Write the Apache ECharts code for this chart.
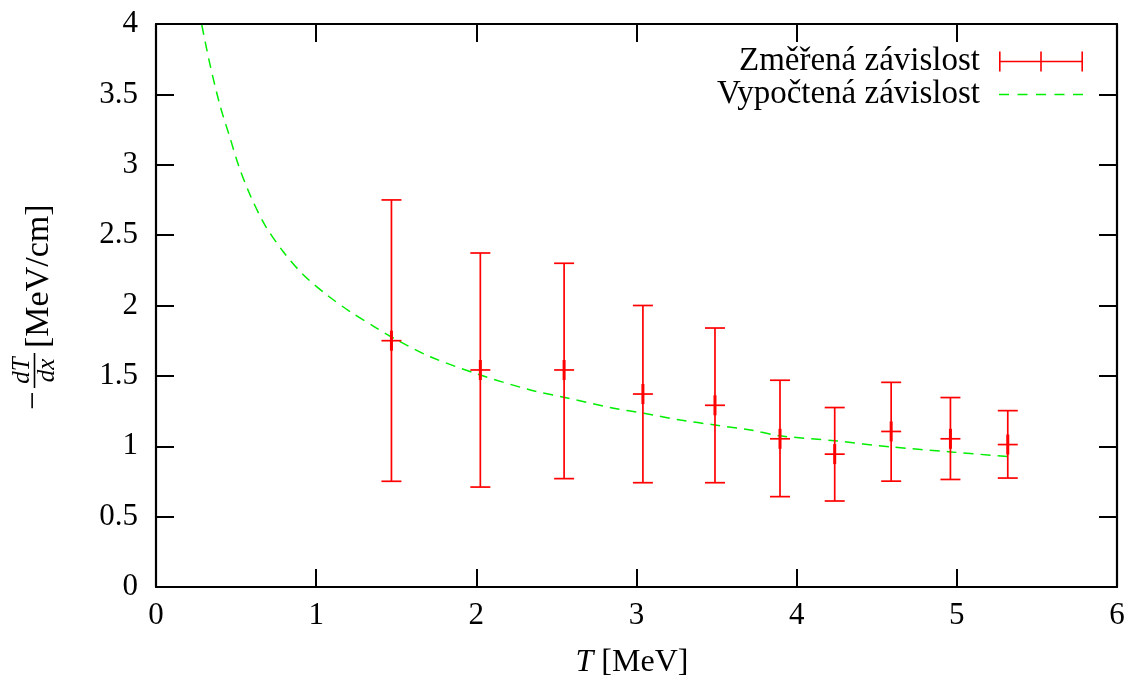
<!DOCTYPE html>
<html>
<head>
<meta charset="utf-8">
<script src="https://cdn.jsdelivr.net/npm/echarts@6/dist/echarts.min.js"></script>
<style>
html,body{margin:0;padding:0;background:#fff;}
#chart{width:1131px;height:685px;}
</style>
</head>
<body>
<div id="chart"></div>
<script>
// Measured data (error bars)
const measT   = [1.47, 2.025, 2.548, 3.04, 3.49, 3.896, 4.2375, 4.59, 4.96, 5.318];
const measY   = [1.75, 1.542, 1.542, 1.371, 1.291, 1.053, 0.944, 1.105, 1.053, 1.012];
const measLo  = [0.751, 0.71, 0.77, 0.741, 0.741, 0.642, 0.611, 0.752, 0.764, 0.774];
const measHi  = [2.75, 2.373, 2.30, 2.00, 1.84, 1.469, 1.275, 1.454, 1.346, 1.253];

// Calculated curve
const curveT = [0.286, 0.3375, 0.40, 0.4625, 0.514, 0.5875, 0.681, 0.796, 0.921, 1.067, 1.2125, 1.379, 1.504,
                1.7125, 2.025, 2.3375, 2.546, 2.858, 3.046, 3.275, 3.49, 3.7125, 3.896, 4.2375, 4.59, 4.96, 5.32];
const curveY = [3.993, 3.71, 3.42, 3.19, 3.00, 2.785, 2.57, 2.38, 2.217, 2.075, 1.956, 1.838, 1.755,
                1.636, 1.506, 1.40, 1.348, 1.27, 1.234, 1.186, 1.151, 1.115, 1.074, 1.039, 0.995, 0.96, 0.926];

const xTicks = {min: 0, max: 6, interval: 1};
const yTicks = {min: 0, max: 4, interval: 0.5};

const seriesNames = ['Změřená závislost', 'Vypočtená závislost'];
const xTitle = 'T';
const xUnit = '[MeV]';
const yUnit = '[MeV/cm]';

const FONT = '"Liberation Serif", "Times New Roman", serif';

const errData = measT.map((t, i) => [t, measY[i], measLo[i], measHi[i]]);
const curveData = curveT.map((t, i) => [t, curveY[i]]);

const chart = echarts.init(document.getElementById('chart'), null, {renderer: 'canvas'});

const axisLineStyle = {color: '#000', width: 2.2};
const tickStyle = {show: true, inside: true, length: 18, lineStyle: {color: '#000', width: 2}};

const errIcon = 'path://M0,0h1.6v20h-1.6z M82.4,0h1.6v20h-1.6z M0,9.2h84v1.6h-84z M41.2,0h1.6v20h-1.6z';
const dashIcon = 'path://M0,0h0.01v0.01h-0.01z M83.99,19.99h0.01v0.01h-0.01z ' +
  'M0,9.3h10v1.4h-10z M18.5,9.3h10v1.4h-10z M37,9.3h10v1.4h-10z M55.5,9.3h10v1.4h-10z M74,9.3h10v1.4h-10z';

const option = {
  animation: false,
  backgroundColor: '#fff',
  grid: {left: 156, right: 14, top: 24, bottom: 98, containLabel: false},
  xAxis: [{
    type: 'value', position: 'bottom',
    min: xTicks.min, max: xTicks.max, interval: xTicks.interval,
    axisLine: {show: true, onZero: false, lineStyle: axisLineStyle},
    axisTick: tickStyle,
    splitLine: {show: false},
    axisLabel: {color: '#000', fontFamily: FONT, fontSize: 31, margin: 13}
  }, {
    type: 'value', position: 'top',
    min: xTicks.min, max: xTicks.max, interval: xTicks.interval,
    axisLine: {show: true, onZero: false, lineStyle: axisLineStyle},
    axisTick: tickStyle,
    splitLine: {show: false},
    axisLabel: {show: false}
  }],
  yAxis: [{
    type: 'value', position: 'left',
    min: yTicks.min, max: yTicks.max, interval: yTicks.interval,
    axisLine: {show: true, onZero: false, lineStyle: axisLineStyle},
    axisTick: tickStyle,
    splitLine: {show: false},
    axisLabel: {color: '#000', fontFamily: FONT, fontSize: 31, margin: 18}
  }, {
    type: 'value', position: 'right',
    min: yTicks.min, max: yTicks.max, interval: yTicks.interval,
    axisLine: {show: true, onZero: false, lineStyle: axisLineStyle},
    axisTick: tickStyle,
    splitLine: {show: false},
    axisLabel: {show: false}
  }],
  legend: {
    orient: 'vertical',
    align: 'right',
    right: 48,
    top: 45,
    itemWidth: 84,
    itemHeight: 20,
    itemGap: 0,
    selectedMode: false,
    padding: 0,
    textStyle: {color: '#000', fontFamily: FONT, fontSize: 33, lineHeight: 32, padding: [0, 14, 0, 0]},
    data: [
      {name: seriesNames[0], icon: errIcon, itemStyle: {color: '#ff0000', borderWidth: 0}},
      {name: seriesNames[1], icon: dashIcon, itemStyle: {color: '#00ee00', borderWidth: 0}}
    ]
  },
  series: [{
    name: seriesNames[0],
    type: 'custom',
    xAxisIndex: 0, yAxisIndex: 0,
    itemStyle: {color: '#ff0000'},
    encode: {x: 0, y: [1, 2, 3]},
    renderItem: function (params, api) {
      const x = api.value(0), y = api.value(1), lo = api.value(2), hi = api.value(3);
      const c = api.coord([x, y]);
      const cl = api.coord([x, lo]);
      const ch = api.coord([x, hi]);
      const hw = 10;
      const st = {stroke: '#ff0000', lineWidth: 1.7};
      return {
        type: 'group',
        children: [
          {type: 'line', shape: {x1: cl[0], y1: cl[1], x2: ch[0], y2: ch[1]}, style: st},
          {type: 'line', shape: {x1: cl[0] - hw, y1: cl[1], x2: cl[0] + hw, y2: cl[1]}, style: st},
          {type: 'line', shape: {x1: ch[0] - hw, y1: ch[1], x2: ch[0] + hw, y2: ch[1]}, style: st},
          {type: 'line', shape: {x1: c[0] - hw, y1: c[1], x2: c[0] + hw, y2: c[1]}, style: st},
          {type: 'line', shape: {x1: c[0], y1: c[1] - hw, x2: c[0], y2: c[1] + hw}, style: {stroke: '#ff0000', lineWidth: 3}}
        ]
      };
    },
    data: errData,
    z: 3
  }, {
    name: seriesNames[1],
    type: 'line',
    xAxisIndex: 0, yAxisIndex: 0,
    data: curveData,
    smooth: 0.3,
    showSymbol: false,
    symbol: 'none',
    itemStyle: {color: '#00ee00'},
    lineStyle: {color: '#00ee00', width: 1.5, type: [10, 7]},
    z: 2
  }]
};

option.graphic = [
  // x axis title: italic T + [MeV]
  {
    type: 'text', x: 632, y: 663,
    style: {
      text: '{i|' + xTitle + '} ' + xUnit,
      font: '32px ' + FONT, fill: '#000',
      align: 'center', verticalAlign: 'middle', textAlign: 'center', textVerticalAlign: 'middle',
      rich: {i: {fontStyle: 'italic', fontFamily: FONT, fontSize: 32}}
    }
  },
  // y axis title, rotated: − dT/dx [MeV/cm]
  {
    type: 'group', x: 50, y: 410, rotation: Math.PI / 2,
    children: [
      {type: 'text', x: 0, y: -15.5,
        style: {text: '\u2212', font: '33px ' + FONT, fill: '#000', align: 'left', verticalAlign: 'middle', textAlign: 'left', textVerticalAlign: 'middle'}},
      {type: 'rect', shape: {x: 22, y: -16.3, width: 35, height: 1.6}, style: {fill: '#000'}},
      {type: 'text', x: 39.5, y: -28,
        style: {text: 'dT', font: 'italic 25px ' + FONT, fill: '#000', align: 'center', verticalAlign: 'middle', textAlign: 'center', textVerticalAlign: 'middle'}},
      {type: 'text', x: 39.5, y: -3,
        style: {text: 'dx', font: 'italic 25px ' + FONT, fill: '#000', align: 'center', verticalAlign: 'middle', textAlign: 'center', textVerticalAlign: 'middle'}},
      {type: 'text', x: 62, y: -11,
        style: {text: yUnit, font: '34px ' + FONT, fill: '#000', align: 'left', verticalAlign: 'middle', textAlign: 'left', textVerticalAlign: 'middle'}}
    ]
  }
];

chart.setOption(option);
</script>
</body>
</html>
